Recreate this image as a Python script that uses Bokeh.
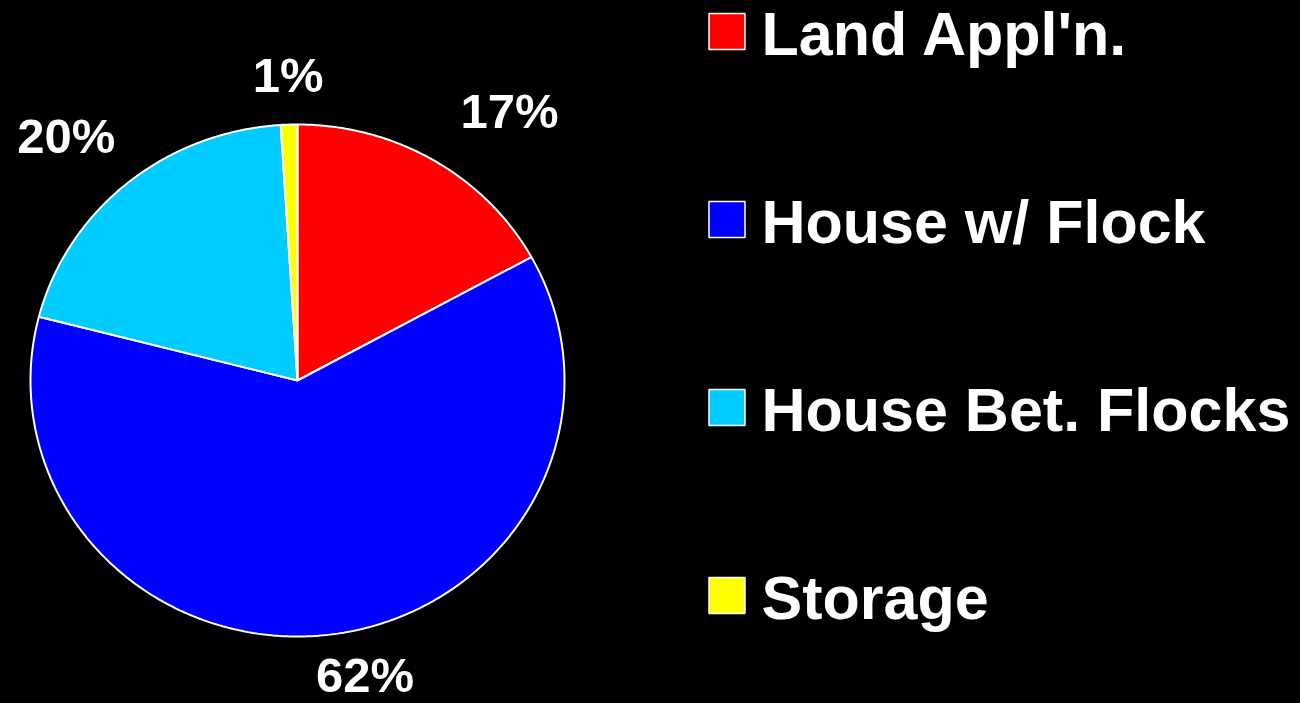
import numpy as np
from bokeh.plotting import figure
from bokeh.models import Range1d
from bokeh.core.properties import value
from bokeh.embed import file_html
from bokeh.resources import INLINE

# ---- data ----
categories = ["Land Appl'n.", "House w/ Flock", "House Bet. Flocks", "Storage"]
shares = [17, 62, 20, 1]
pct_labels = ["17%", "62%", "20%", "1%"]
colors = ["#FF0000", "#0000FF", "#00CCFF", "#FFFF00"]

# ---- layout / style ----
W, H = 1300, 703
cx, cy, rx, ry = 297, 380, 267, 256
label_dx = [76, 34, -61, -1]
label_dy = [-49, 41, -47, -50]
FONT = value("Liberation Sans")

p = figure(width=W, height=H, x_range=Range1d(0, W), y_range=Range1d(H, 0),
           output_backend="svg", toolbar_location=None, min_border=0)
p.axis.visible = False
p.grid.visible = False
p.outline_line_color = None
p.background_fill_color = "black"
p.border_fill_color = "black"

total = float(sum(shares))
xs, ys, lx, ly = [], [], [], []
a0 = 90.0
for i, s in enumerate(shares):
    a1 = a0 - s / total * 360.0
    t = np.radians(np.linspace(a0, a1, max(int(abs(a1 - a0)) * 2, 8)))
    px = np.concatenate([[cx], cx + rx * np.cos(t)])
    py = np.concatenate([[cy], cy - ry * np.sin(t)])
    xs.append(list(px)); ys.append(list(py))
    m = np.radians((a0 + a1) / 2)
    lx.append(cx + rx * np.cos(m) + label_dx[i])
    ly.append(cy - ry * np.sin(m) + label_dy[i])
    a0 = a1

p.patches(xs, ys, fill_color=colors, line_color="white", line_width=2)
p.text(lx, ly, text=pct_labels, text_color="white", text_font=FONT,
       text_font_style="bold", text_font_size="49px", text_align="center",
       text_baseline="middle")

# legend
ly0, step = 33, 188
leg_y = [ly0 + i * step for i in range(len(categories))]
p.rect(x=[726.5] * len(categories), y=[y - 2 for y in leg_y], width=36, height=36,
       fill_color=colors, line_color="white", line_width=1.5)
p.text([761] * len(categories), leg_y, text=categories,
       text_color="white", text_font=FONT, text_font_style="bold",
       text_font_size="61px", text_align="left", text_baseline="middle")

html = file_html(p, INLINE)
html = html.replace("<head>", "<head><style>html,body{background:#000;}</style>", 1)
open("out.html", "w").write(html)
